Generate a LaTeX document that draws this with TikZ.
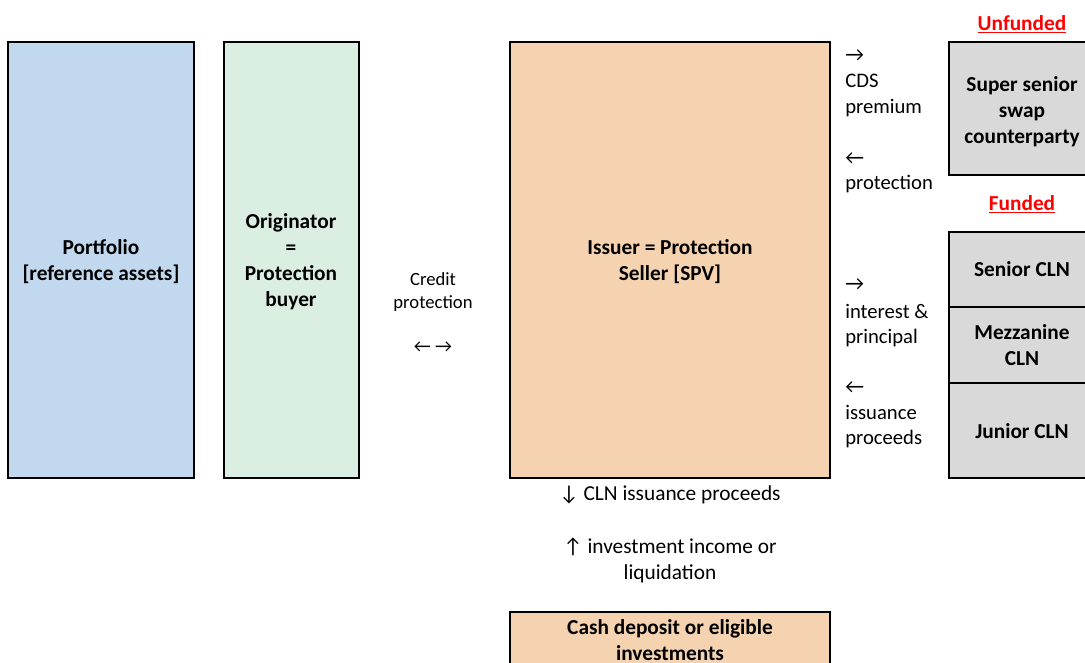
\documentclass[tikz,border=0pt]{standalone}
\usepackage{fontspec}
\setmainfont{Carlito}
\usetikzlibrary{fit}
\definecolor{pblue}{RGB}{194,216,238}
\definecolor{pgreen}{RGB}{218,238,226}
\definecolor{ppeach}{RGB}{245,210,176}
\definecolor{pgray}{RGB}{217,217,217}
\begin{document}
\begin{tikzpicture}[x=0.75pt,y=-0.75pt,
  box/.style={draw=black, line width=1.5pt, inner sep=0pt},
  btxt/.style={inner sep=0pt, align=center,
    font=\bfseries\fontsize{16}{19.5}\selectfont},
  lbl/.style={inner sep=0pt, align=left, anchor=west,
    font=\fontsize{15.5}{19}\selectfont},
  clbl/.style={inner sep=0pt, align=center,
    font=\fontsize{16}{19.5}\selectfont},
  tier/.style={inner sep=0pt, text=red, font=\bfseries\fontsize{16}{19.5}\selectfont}]
\useasboundingbox (0,0) rectangle (1085,662);
\node[box, fill=pblue, fit={(8,42) (194,478)}] (port) {};
\node[btxt] at (101,262) (portt) {Portfolio\\{[reference assets]}};
\node[box, fill=pgreen, fit={(224,42) (359,478)}] (orig) {};
\node[btxt] at (291,262) (origt) {Originator\\=\\Protection\\buyer};
\node[box, fill=ppeach, fit={(510,42) (830,478)}] (iss) {};
\node[btxt] at (670,262) (isst) {Issuer = Protection\\Seller [SPV]};
\node[box, fill=pgray, fit={(949,42) (1092,175)}] (ss) {};
\node[btxt] at (1022,111.5) (sst) {Super senior\\swap\\counterparty};
\node[box, fill=pgray, fit={(949,232) (1092,307)}] (sen) {};
\node[btxt] at (1022,269.5) (sent) {Senior CLN};
\node[box, fill=pgray, fit={(949,307) (1092,383)}] (mez) {};
\node[btxt] at (1022,345) (mezt) {Mezzanine\\CLN};
\node[box, fill=pgray, fit={(949,383) (1092,478)}] (jun) {};
\node[btxt] at (1022,431) (junt) {Junior CLN};
\node[box, fill=ppeach, fit={(510,612) (830,672)}] (cash) {};
\node[btxt] at (670,640) (casht) {Cash deposit or eligible\\investments};
\node[tier] at (1022,24) (unf) {\underline{Unfunded}};
\node[tier] at (1022,204) (fun) {\underline{Funded}};
\node[lbl] at (845,83) (cds) {→\\[1pt]CDS\\premium};
\node[lbl] at (845,173) (prot) {←\\protection};
\node[lbl] at (845,313) (int) {→\\[1.5pt]interest \&\\principal};
\node[lbl] at (845,414.5) (proc) {←\\[0.5pt]issuance\\proceeds};
\node[inner sep=0pt, align=center, font=\fontsize{14}{17.25}\selectfont] at (433,292.5) (cp) {Credit\\protection};
\node[inner sep=0pt, font=\fontsize{14}{17.25}\selectfont] at (433,347) (cparr) {← →};
\node[clbl] at (670,495) (down) {↓ CLN issuance proceeds};
\node[clbl] at (670,560) (up) {↑ investment income or\\liquidation};
\end{tikzpicture}
\end{document}
